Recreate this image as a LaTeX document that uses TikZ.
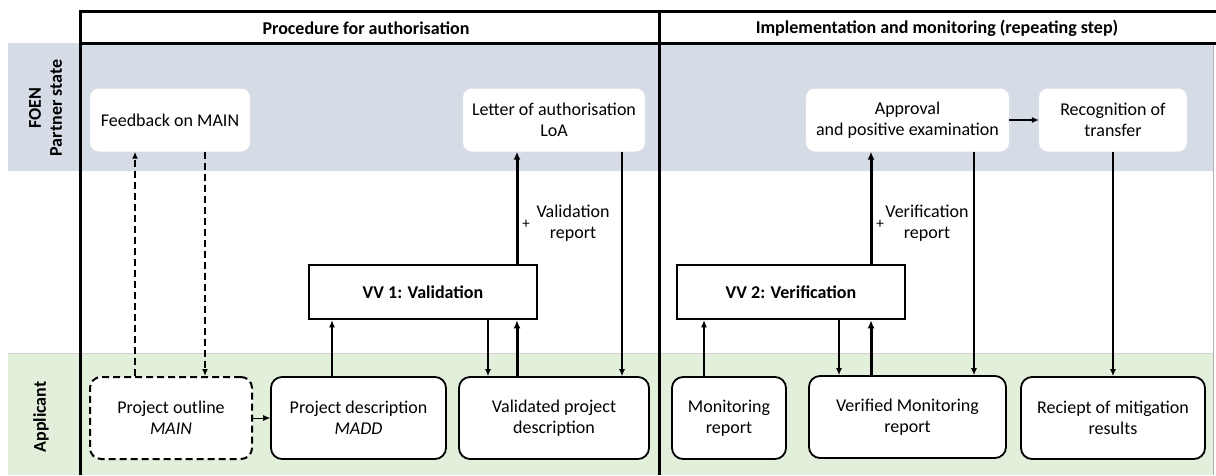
\documentclass[tikz,border=0pt]{standalone}
\usepackage{fontspec}
\setmainfont{Carlito}
\usetikzlibrary{arrows.meta}
\definecolor{bandblue}{HTML}{D6DCE5}
\definecolor{bandgreen}{HTML}{E2EFDA}
\tikzset{
  txt/.style={font=\fontsize{18}{21}\selectfont, align=center, inner sep=0pt},
  topbox/.style={txt, fill=white, rounded corners=9pt, minimum height=63pt},
  botbox/.style={txt, fill=white, draw=black, line width=1.8pt, rounded corners=11pt, minimum height=82pt},
  vvbox/.style={txt, font=\fontsize{18}{21}\selectfont\bfseries, fill=white, draw=black, line width=2.6pt, minimum width=228pt, minimum height=54pt},
  frame/.style={line width=3pt, black},
  thinarr/.style={line width=1.1pt, -{Latex[length=7pt,width=6pt]}},
  thickarr/.style={line width=3pt, -{Latex[length=8pt,width=7pt]}},
  dasharr/.style={line width=2pt, dash pattern=on 7pt off 4pt, -{Latex[length=7pt,width=6pt]}},
  lbl/.style={font=\fontsize{18}{21}\selectfont, align=center, inner sep=0pt},
  plus/.style={font=\fontsize{15}{15}\selectfont, inner sep=0pt},
  lane/.style={font=\fontsize{18}{21}\selectfont\bfseries, rotate=90, align=center, inner sep=0pt}
}
\begin{document}
\begin{tikzpicture}[x=1pt,y=-1pt]
\useasboundingbox (0,0) rectangle (1216,475);
\fill[white] (0,0) rectangle (1216,475);
% bands
\fill[bandblue] (8,43) rectangle (1213,171);
\fill[bandgreen] (8,353) rectangle (1213,475);
\draw[gray!35, line width=0.6pt] (8,353) -- (1213,353);
\draw[gray!60, line width=0.8pt] (1213,43) -- (1213,475);
% frame
\draw[frame] (80,11) -- (1216,11);
\draw[frame] (80,43) -- (1216,43);
\draw[frame] (80,9.5) -- (80,475);
\draw[frame] (659,9.5) -- (659,475);
% headers
\node[txt, font=\fontsize{18}{21}\selectfont\bfseries] (h1) at (366,28) {Procedure for authorisation};
\node[txt, font=\fontsize{18}{21}\selectfont\bfseries] (h2) at (937,28) {Implementation and monitoring (repeating step)};
% lane labels
\node[lane] (l1) at (45.5,108) {FOEN\\Partner state};
\node[lane] (l2) at (41,417) {Applicant};
% top boxes
\node[topbox, minimum width=160pt] (fb) at (170,120) {Feedback on MAIN};
\node[topbox, minimum width=182pt] (loa) at (554,120) {Letter of authorisation\\LoA};
\node[topbox, minimum width=203pt] (appr) at (907.5,120) {Approval\\and positive examination};
\node[topbox, minimum width=148pt] (recog) at (1113,120) {Recognition of\\transfer};
% VV boxes
\node[vvbox] (vv1) at (423,292) {VV 1: Validation};
\node[vvbox] (vv2) at (791,292) {VV 2: Verification};
% bottom boxes
\node[botbox, minimum width=162pt, dash pattern=on 7pt off 4pt, line width=2pt] (outline) at (171,418) {Project outline\\\textit{MAIN}};
\node[botbox, minimum width=175pt] (pdesc) at (358.5,418) {Project description\\\textit{MADD}};
\node[botbox, minimum width=190pt] (valid) at (554,418) {Validated project\\description};
\node[botbox, minimum width=114pt] (mon) at (729,418) {Monitoring\\report};
\node[botbox, minimum width=197pt] (verif) at (907.5,417) {Verified Monitoring\\report};
\node[botbox, minimum width=184pt] (rec) at (1113,418) {Reciept of mitigation\\results};
% x positions
\coordinate (xa) at (135,0);
\coordinate (xb) at (205,0);
\coordinate (xc) at (332,0);
\coordinate (xd) at (488,0);
\coordinate (xe) at (517,0);
\coordinate (xf) at (622,0);
\coordinate (xg) at (704,0);
\coordinate (xh) at (839,0);
\coordinate (xi) at (871,0);
\coordinate (xj) at (974,0);
\coordinate (xk) at (1113,0);
% dashed arrows
\draw[dasharr] (outline.north -| xa) -- (fb.south -| xa);
\draw[dasharr] (fb.south -| xb) -- (outline.north -| xb);
% outline to description
\draw[line width=0.6pt, -{Latex[length=7pt,width=6pt]}] (outline.east) -- (pdesc.west);
% authorisation
\draw[thinarr] (pdesc.north -| xc) -- (vv1.south -| xc);
\draw[thinarr] (vv1.south -| xd) -- (valid.north -| xd);
\draw[thickarr] (valid.north -| xe) -- (vv1.south -| xe);
\draw[thickarr] (vv1.north -| xe) -- (loa.south -| xe);
\draw[thinarr] (loa.south -| xf) -- (valid.north -| xf);
% monitoring
\draw[thinarr] (mon.north -| xg) -- (vv2.south -| xg);
\draw[thinarr] (vv2.south -| xh) -- (verif.north -| xh);
\draw[thickarr] (verif.north -| xi) -- (vv2.south -| xi);
\draw[thickarr] (vv2.north -| xi) -- (appr.south -| xi);
\draw[thinarr] (appr.south -| xj) -- (verif.north -| xj);
\draw[thinarr] (recog.south -| xk) -- (rec.north -| xk);
\draw[thinarr] (appr.east) -- (recog.west);
% labels
\node[plus] (p1) at (526,224) {+};
\node[lbl] (t1) at (573,223.5) {Validation\\report};
\node[plus] (p2) at (880,224) {+};
\node[lbl] (t2) at (927,223.5) {Verification\\report};
\end{tikzpicture}
\end{document}
